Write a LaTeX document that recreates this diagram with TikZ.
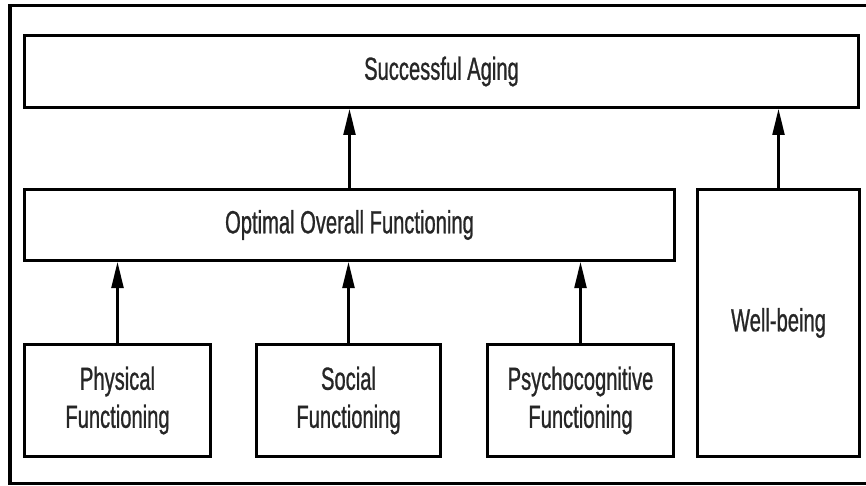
\documentclass[tikz,border=0pt]{standalone}
\usepackage{fontspec}
\setmainfont{Liberation Sans}[FakeStretch=0.63,FakeBold=0.8]
\usetikzlibrary{arrows.meta}
\begin{document}
\begin{tikzpicture}[x=1pt,y=-1pt,
  box/.style={draw=black,line width=3pt,rectangle,inner sep=0pt,
    align=center,text=black!85,font=\fontsize{32}{38}\selectfont},
  arr/.style={line width=2.2pt,-{Triangle[length=26pt,width=12pt]}}]
  \useasboundingbox (0,0) rectangle (866,486);
  \fill[white] (0,0) rectangle (866,486);
  % outer frame, running off the right edge
  \draw[line width=3.8pt] (890,5.5) -- (10,5.5) -- (10,483.5) -- (890,483.5);
  \clip (0,0) rectangle (866,486);
  \node[box,minimum width=834pt,minimum height=72pt] (sa) at (441.5,71.5) {Successful Aging};
  \node[box,minimum width=650pt,minimum height=71pt] (oof) at (349.5,225) {Optimal Overall Functioning};
  \node[box,minimum width=162pt,minimum height=267pt] (wb) at (778.5,323) {Well-being};
  \node[box,minimum width=186pt,minimum height=112pt] (pf) at (117.5,400.5) {Physical\\Functioning};
  \node[box,minimum width=184pt,minimum height=112pt] (sf) at (348.5,400.5) {Social\\Functioning};
  \node[box,minimum width=186pt,minimum height=112pt] (pcf) at (580.5,400.5) {Psychocognitive\\Functioning};
  \draw[arr] (pf.north) -- (pf.north |- oof.south);
  \draw[arr] (sf.north) -- (sf.north |- oof.south);
  \draw[arr] (pcf.north) -- (pcf.north |- oof.south);
  \draw[arr] (oof.north) -- (oof.north |- sa.south);
  \draw[arr] (wb.north) -- (wb.north |- sa.south);
\end{tikzpicture}
\end{document}
